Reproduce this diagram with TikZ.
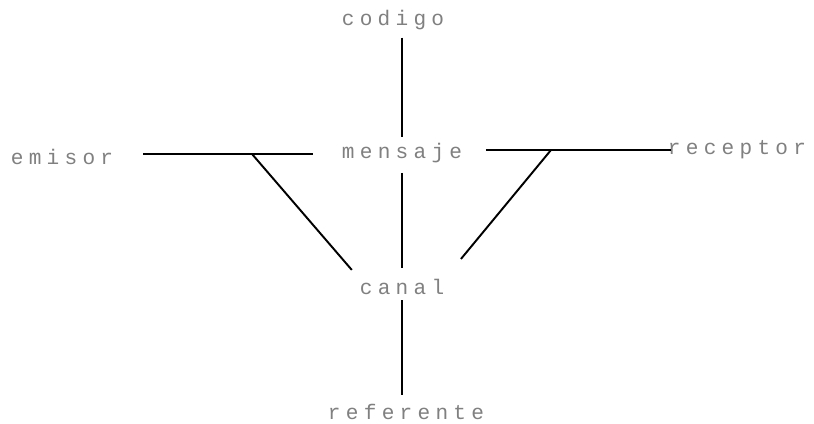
\documentclass[tikz,border=0pt]{standalone}
\usepackage{fontspec}
\newfontfamily\dotfont[LetterSpace=25]{Liberation Mono}
\usetikzlibrary{positioning}

\begin{document}
\begin{tikzpicture}[x=0.02cm,y=-0.02cm,thick]
        \tikzset{word/.style={font=\dotfont\fontsize{12}{14}\selectfont,text=black!50,inner sep=0pt,outer sep=0pt},
                 link/.style={line width=1.1pt}}
        \useasboundingbox (0,0) rectangle (814,423);
        % words
        \node[word] (codigo) at (393,20) {codigo};
        \node[word] (mensaje) at (402,153) {mensaje};
        \node[word] (emisor) at (62,157) {emisor};
        \node[word] (receptor) at (737,150) {receptor};
        \node[word] (canal) at (402,287) {canal};
        \node[word] (referente) at (406,412) {referente};
        % branch points
        \coordinate (bl) at (252,154);
        \coordinate (br) at (551,150);
        % lines
        \draw[link,shorten <=4.5pt,shorten >=3.4pt] (mensaje.north |- codigo.south) -- (mensaje.north);
        \draw[link,shorten <=5.7pt,shorten >=6.3pt] (mensaje.south) -- (canal.north);
        \draw[link,shorten <=3pt,shorten >=5pt] (canal.south) -- (canal.south |- referente.north);
        \draw[link,shorten <=17pt] (emisor.east |- bl) -- (bl);
        \draw[link,shorten >=16.5pt] (bl) -- (mensaje.west |- bl);
        \draw[link,shorten <=13.6pt] (mensaje.east |- br) -- (br);
        \draw[link,shorten >=-2pt] (br) -- (receptor.west |- br);
        \draw[link,shorten >=7pt] (bl) -- (canal.north west);
        \draw[link,shorten >=15pt] (br) -- (canal.north east);
\end{tikzpicture}
\end{document}
